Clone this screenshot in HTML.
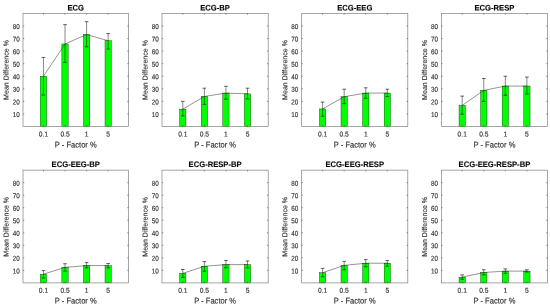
<!DOCTYPE html><html><head><meta charset="utf-8"><title>fig</title><style>html,body{margin:0;padding:0;background:#fff}svg{display:block}text{font-family:"Liberation Sans",sans-serif;stroke:#333;stroke-width:0.15px}</style></head><body>
<svg width="550" height="308" viewBox="0 0 550 308">
<rect width="550" height="308" fill="#fff"/>
<g><rect x="40.30" y="76.26" width="6.30" height="50.24" fill="#00ff00" stroke="#003000" stroke-width="0.4"/><rect x="61.87" y="43.97" width="6.30" height="82.53" fill="#00ff00" stroke="#003000" stroke-width="0.4"/><rect x="83.44" y="34.55" width="6.30" height="91.95" fill="#00ff00" stroke="#003000" stroke-width="0.4"/><rect x="105.01" y="40.71" width="6.30" height="85.79" fill="#00ff00" stroke="#003000" stroke-width="0.4"/><polyline points="43.45,76.26 65.02,43.97 86.59,34.55 108.16,40.71" fill="none" stroke="#2a2a2a" stroke-width="0.5"/><path d="M43.45 95.10V57.41" fill="none" stroke="#111" stroke-width="0.5"/><path d="M41.65 95.10h3.6M41.65 57.41h3.6" fill="none" stroke="#111" stroke-width="0.65"/><path d="M65.02 62.44V24.63" fill="none" stroke="#111" stroke-width="0.5"/><path d="M63.22 62.44h3.6M63.22 24.63h3.6" fill="none" stroke="#111" stroke-width="0.65"/><path d="M86.59 46.80V21.68" fill="none" stroke="#111" stroke-width="0.5"/><path d="M84.79 46.80h3.6M84.79 21.68h3.6" fill="none" stroke="#111" stroke-width="0.65"/><path d="M108.16 49.00V33.55" fill="none" stroke="#111" stroke-width="0.5"/><path d="M106.36 49.00h3.6M106.36 33.55h3.6" fill="none" stroke="#111" stroke-width="0.65"/><rect x="23.00" y="13.45" width="105.50" height="113.05" fill="none" stroke="#858585" stroke-width="0.72"/><path d="M43.45 126.50v-1.25M43.45 13.45v1.25M65.02 126.50v-1.25M65.02 13.45v1.25M86.59 126.50v-1.25M86.59 13.45v1.25M108.16 126.50v-1.25M108.16 13.45v1.25M23.00 113.94h1.25M128.50 113.94h-1.25M23.00 101.38h1.25M128.50 101.38h-1.25M23.00 88.82h1.25M128.50 88.82h-1.25M23.00 76.26h1.25M128.50 76.26h-1.25M23.00 63.69h1.25M128.50 63.69h-1.25M23.00 51.13h1.25M128.50 51.13h-1.25M23.00 38.57h1.25M128.50 38.57h-1.25M23.00 26.01h1.25M128.50 26.01h-1.25" fill="none" stroke="#383838" stroke-width="0.55"/><text transform="translate(43.45 136.50) rotate(0.05) scale(0.95 1)" font-size="7.05" text-anchor="middle" fill="#333">0.1</text><text transform="translate(65.02 136.50) rotate(0.05) scale(0.95 1)" font-size="7.05" text-anchor="middle" fill="#333">0.5</text><text transform="translate(86.59 136.50) rotate(0.05) scale(0.95 1)" font-size="7.05" text-anchor="middle" fill="#333">1</text><text transform="translate(108.16 136.50) rotate(0.05) scale(0.95 1)" font-size="7.05" text-anchor="middle" fill="#333">5</text><text transform="translate(19.70 116.97) rotate(0.05) scale(0.9 1)" font-size="7.05" text-anchor="end" fill="#333">10</text><text transform="translate(19.70 104.41) rotate(0.05) scale(0.9 1)" font-size="7.05" text-anchor="end" fill="#333">20</text><text transform="translate(19.70 91.85) rotate(0.05) scale(0.9 1)" font-size="7.05" text-anchor="end" fill="#333">30</text><text transform="translate(19.70 79.29) rotate(0.05) scale(0.9 1)" font-size="7.05" text-anchor="end" fill="#333">40</text><text transform="translate(19.70 66.72) rotate(0.05) scale(0.9 1)" font-size="7.05" text-anchor="end" fill="#333">50</text><text transform="translate(19.70 54.16) rotate(0.05) scale(0.9 1)" font-size="7.05" text-anchor="end" fill="#333">60</text><text transform="translate(19.70 41.60) rotate(0.05) scale(0.9 1)" font-size="7.05" text-anchor="end" fill="#333">70</text><text transform="translate(19.70 29.04) rotate(0.05) scale(0.9 1)" font-size="7.05" text-anchor="end" fill="#333">80</text><text transform="translate(75.75 147.40) rotate(0.05) scale(0.925 1)" font-size="8.2" text-anchor="middle" fill="#333">P - Factor %</text><text transform="translate(8.60 69.97) rotate(-89.95)" font-size="7.05" text-anchor="middle" fill="#333">Mean Difference %</text><text transform="translate(75.75 10.55) rotate(0.05) scale(0.955 1)" font-size="8.0" font-weight="bold" text-anchor="middle" fill="#000" stroke="#000">ECG</text></g>
<g><rect x="179.65" y="109.17" width="6.30" height="17.33" fill="#00ff00" stroke="#003000" stroke-width="0.4"/><rect x="201.22" y="96.48" width="6.30" height="30.02" fill="#00ff00" stroke="#003000" stroke-width="0.4"/><rect x="222.79" y="93.09" width="6.30" height="33.41" fill="#00ff00" stroke="#003000" stroke-width="0.4"/><rect x="244.36" y="93.84" width="6.30" height="32.66" fill="#00ff00" stroke="#003000" stroke-width="0.4"/><polyline points="182.80,109.17 204.37,96.48 225.94,93.09 247.51,93.84" fill="none" stroke="#2a2a2a" stroke-width="0.5"/><path d="M182.80 115.95V101.38" fill="none" stroke="#111" stroke-width="0.5"/><path d="M181.00 115.95h3.6M181.00 101.38h3.6" fill="none" stroke="#111" stroke-width="0.65"/><path d="M204.37 104.39V88.19" fill="none" stroke="#111" stroke-width="0.5"/><path d="M202.57 104.39h3.6M202.57 88.19h3.6" fill="none" stroke="#111" stroke-width="0.65"/><path d="M225.94 99.24V86.30" fill="none" stroke="#111" stroke-width="0.5"/><path d="M224.14 99.24h3.6M224.14 86.30h3.6" fill="none" stroke="#111" stroke-width="0.65"/><path d="M247.51 98.87V88.19" fill="none" stroke="#111" stroke-width="0.5"/><path d="M245.71 98.87h3.6M245.71 88.19h3.6" fill="none" stroke="#111" stroke-width="0.65"/><rect x="162.00" y="13.45" width="106.20" height="113.05" fill="none" stroke="#858585" stroke-width="0.72"/><path d="M182.80 126.50v-1.25M182.80 13.45v1.25M204.37 126.50v-1.25M204.37 13.45v1.25M225.94 126.50v-1.25M225.94 13.45v1.25M247.51 126.50v-1.25M247.51 13.45v1.25M162.00 113.94h1.25M268.20 113.94h-1.25M162.00 101.38h1.25M268.20 101.38h-1.25M162.00 88.82h1.25M268.20 88.82h-1.25M162.00 76.26h1.25M268.20 76.26h-1.25M162.00 63.69h1.25M268.20 63.69h-1.25M162.00 51.13h1.25M268.20 51.13h-1.25M162.00 38.57h1.25M268.20 38.57h-1.25M162.00 26.01h1.25M268.20 26.01h-1.25" fill="none" stroke="#383838" stroke-width="0.55"/><text transform="translate(182.80 136.50) rotate(0.05) scale(0.95 1)" font-size="7.05" text-anchor="middle" fill="#333">0.1</text><text transform="translate(204.37 136.50) rotate(0.05) scale(0.95 1)" font-size="7.05" text-anchor="middle" fill="#333">0.5</text><text transform="translate(225.94 136.50) rotate(0.05) scale(0.95 1)" font-size="7.05" text-anchor="middle" fill="#333">1</text><text transform="translate(247.51 136.50) rotate(0.05) scale(0.95 1)" font-size="7.05" text-anchor="middle" fill="#333">5</text><text transform="translate(158.70 116.97) rotate(0.05) scale(0.9 1)" font-size="7.05" text-anchor="end" fill="#333">10</text><text transform="translate(158.70 104.41) rotate(0.05) scale(0.9 1)" font-size="7.05" text-anchor="end" fill="#333">20</text><text transform="translate(158.70 91.85) rotate(0.05) scale(0.9 1)" font-size="7.05" text-anchor="end" fill="#333">30</text><text transform="translate(158.70 79.29) rotate(0.05) scale(0.9 1)" font-size="7.05" text-anchor="end" fill="#333">40</text><text transform="translate(158.70 66.72) rotate(0.05) scale(0.9 1)" font-size="7.05" text-anchor="end" fill="#333">50</text><text transform="translate(158.70 54.16) rotate(0.05) scale(0.9 1)" font-size="7.05" text-anchor="end" fill="#333">60</text><text transform="translate(158.70 41.60) rotate(0.05) scale(0.9 1)" font-size="7.05" text-anchor="end" fill="#333">70</text><text transform="translate(158.70 29.04) rotate(0.05) scale(0.9 1)" font-size="7.05" text-anchor="end" fill="#333">80</text><text transform="translate(215.10 147.40) rotate(0.05) scale(0.925 1)" font-size="8.2" text-anchor="middle" fill="#333">P - Factor %</text><text transform="translate(147.60 69.97) rotate(-89.95)" font-size="7.05" text-anchor="middle" fill="#333">Mean Difference %</text><text transform="translate(215.10 10.55) rotate(0.05) scale(0.955 1)" font-size="8.0" font-weight="bold" text-anchor="middle" fill="#000" stroke="#000">ECG-BP</text></g>
<g><rect x="319.45" y="108.91" width="6.30" height="17.59" fill="#00ff00" stroke="#003000" stroke-width="0.4"/><rect x="341.02" y="96.73" width="6.30" height="29.77" fill="#00ff00" stroke="#003000" stroke-width="0.4"/><rect x="362.59" y="93.09" width="6.30" height="33.41" fill="#00ff00" stroke="#003000" stroke-width="0.4"/><rect x="384.16" y="93.09" width="6.30" height="33.41" fill="#00ff00" stroke="#003000" stroke-width="0.4"/><polyline points="322.60,108.91 344.17,96.73 365.74,93.09 387.31,93.09" fill="none" stroke="#2a2a2a" stroke-width="0.5"/><path d="M322.60 116.20V102.13" fill="none" stroke="#111" stroke-width="0.5"/><path d="M320.80 116.20h3.6M320.80 102.13h3.6" fill="none" stroke="#111" stroke-width="0.65"/><path d="M344.17 103.64V89.19" fill="none" stroke="#111" stroke-width="0.5"/><path d="M342.37 103.64h3.6M342.37 89.19h3.6" fill="none" stroke="#111" stroke-width="0.65"/><path d="M365.74 98.24V87.81" fill="none" stroke="#111" stroke-width="0.5"/><path d="M363.94 98.24h3.6M363.94 87.81h3.6" fill="none" stroke="#111" stroke-width="0.65"/><path d="M387.31 96.60V89.19" fill="none" stroke="#111" stroke-width="0.5"/><path d="M385.51 96.60h3.6M385.51 89.19h3.6" fill="none" stroke="#111" stroke-width="0.65"/><rect x="301.65" y="13.45" width="106.15" height="113.05" fill="none" stroke="#858585" stroke-width="0.72"/><path d="M322.60 126.50v-1.25M322.60 13.45v1.25M344.17 126.50v-1.25M344.17 13.45v1.25M365.74 126.50v-1.25M365.74 13.45v1.25M387.31 126.50v-1.25M387.31 13.45v1.25M301.65 113.94h1.25M407.80 113.94h-1.25M301.65 101.38h1.25M407.80 101.38h-1.25M301.65 88.82h1.25M407.80 88.82h-1.25M301.65 76.26h1.25M407.80 76.26h-1.25M301.65 63.69h1.25M407.80 63.69h-1.25M301.65 51.13h1.25M407.80 51.13h-1.25M301.65 38.57h1.25M407.80 38.57h-1.25M301.65 26.01h1.25M407.80 26.01h-1.25" fill="none" stroke="#383838" stroke-width="0.55"/><text transform="translate(322.60 136.50) rotate(0.05) scale(0.95 1)" font-size="7.05" text-anchor="middle" fill="#333">0.1</text><text transform="translate(344.17 136.50) rotate(0.05) scale(0.95 1)" font-size="7.05" text-anchor="middle" fill="#333">0.5</text><text transform="translate(365.74 136.50) rotate(0.05) scale(0.95 1)" font-size="7.05" text-anchor="middle" fill="#333">1</text><text transform="translate(387.31 136.50) rotate(0.05) scale(0.95 1)" font-size="7.05" text-anchor="middle" fill="#333">5</text><text transform="translate(298.35 116.97) rotate(0.05) scale(0.9 1)" font-size="7.05" text-anchor="end" fill="#333">10</text><text transform="translate(298.35 104.41) rotate(0.05) scale(0.9 1)" font-size="7.05" text-anchor="end" fill="#333">20</text><text transform="translate(298.35 91.85) rotate(0.05) scale(0.9 1)" font-size="7.05" text-anchor="end" fill="#333">30</text><text transform="translate(298.35 79.29) rotate(0.05) scale(0.9 1)" font-size="7.05" text-anchor="end" fill="#333">40</text><text transform="translate(298.35 66.72) rotate(0.05) scale(0.9 1)" font-size="7.05" text-anchor="end" fill="#333">50</text><text transform="translate(298.35 54.16) rotate(0.05) scale(0.9 1)" font-size="7.05" text-anchor="end" fill="#333">60</text><text transform="translate(298.35 41.60) rotate(0.05) scale(0.9 1)" font-size="7.05" text-anchor="end" fill="#333">70</text><text transform="translate(298.35 29.04) rotate(0.05) scale(0.9 1)" font-size="7.05" text-anchor="end" fill="#333">80</text><text transform="translate(354.73 147.40) rotate(0.05) scale(0.925 1)" font-size="8.2" text-anchor="middle" fill="#333">P - Factor %</text><text transform="translate(287.25 69.97) rotate(-89.95)" font-size="7.05" text-anchor="middle" fill="#333">Mean Difference %</text><text transform="translate(354.73 10.55) rotate(0.05) scale(0.955 1)" font-size="8.0" font-weight="bold" text-anchor="middle" fill="#000" stroke="#000">ECG-EEG</text></g>
<g><rect x="459.05" y="105.40" width="6.30" height="21.10" fill="#00ff00" stroke="#003000" stroke-width="0.4"/><rect x="480.62" y="90.39" width="6.30" height="36.11" fill="#00ff00" stroke="#003000" stroke-width="0.4"/><rect x="502.19" y="86.05" width="6.30" height="40.45" fill="#00ff00" stroke="#003000" stroke-width="0.4"/><rect x="523.76" y="86.05" width="6.30" height="40.45" fill="#00ff00" stroke="#003000" stroke-width="0.4"/><polyline points="462.20,105.40 483.77,90.39 505.34,86.05 526.91,86.05" fill="none" stroke="#2a2a2a" stroke-width="0.5"/><path d="M462.20 114.19V96.10" fill="none" stroke="#111" stroke-width="0.5"/><path d="M460.40 114.19h3.6M460.40 96.10h3.6" fill="none" stroke="#111" stroke-width="0.65"/><path d="M483.77 101.38V78.52" fill="none" stroke="#111" stroke-width="0.5"/><path d="M481.97 101.38h3.6M481.97 78.52h3.6" fill="none" stroke="#111" stroke-width="0.65"/><path d="M505.34 95.22V76.26" fill="none" stroke="#111" stroke-width="0.5"/><path d="M503.54 95.22h3.6M503.54 76.26h3.6" fill="none" stroke="#111" stroke-width="0.65"/><path d="M526.91 94.09V77.13" fill="none" stroke="#111" stroke-width="0.5"/><path d="M525.11 94.09h3.6M525.11 77.13h3.6" fill="none" stroke="#111" stroke-width="0.65"/><rect x="441.40" y="13.45" width="106.05" height="113.05" fill="none" stroke="#858585" stroke-width="0.72"/><path d="M462.20 126.50v-1.25M462.20 13.45v1.25M483.77 126.50v-1.25M483.77 13.45v1.25M505.34 126.50v-1.25M505.34 13.45v1.25M526.91 126.50v-1.25M526.91 13.45v1.25M441.40 113.94h1.25M547.45 113.94h-1.25M441.40 101.38h1.25M547.45 101.38h-1.25M441.40 88.82h1.25M547.45 88.82h-1.25M441.40 76.26h1.25M547.45 76.26h-1.25M441.40 63.69h1.25M547.45 63.69h-1.25M441.40 51.13h1.25M547.45 51.13h-1.25M441.40 38.57h1.25M547.45 38.57h-1.25M441.40 26.01h1.25M547.45 26.01h-1.25" fill="none" stroke="#383838" stroke-width="0.55"/><text transform="translate(462.20 136.50) rotate(0.05) scale(0.95 1)" font-size="7.05" text-anchor="middle" fill="#333">0.1</text><text transform="translate(483.77 136.50) rotate(0.05) scale(0.95 1)" font-size="7.05" text-anchor="middle" fill="#333">0.5</text><text transform="translate(505.34 136.50) rotate(0.05) scale(0.95 1)" font-size="7.05" text-anchor="middle" fill="#333">1</text><text transform="translate(526.91 136.50) rotate(0.05) scale(0.95 1)" font-size="7.05" text-anchor="middle" fill="#333">5</text><text transform="translate(438.10 116.97) rotate(0.05) scale(0.9 1)" font-size="7.05" text-anchor="end" fill="#333">10</text><text transform="translate(438.10 104.41) rotate(0.05) scale(0.9 1)" font-size="7.05" text-anchor="end" fill="#333">20</text><text transform="translate(438.10 91.85) rotate(0.05) scale(0.9 1)" font-size="7.05" text-anchor="end" fill="#333">30</text><text transform="translate(438.10 79.29) rotate(0.05) scale(0.9 1)" font-size="7.05" text-anchor="end" fill="#333">40</text><text transform="translate(438.10 66.72) rotate(0.05) scale(0.9 1)" font-size="7.05" text-anchor="end" fill="#333">50</text><text transform="translate(438.10 54.16) rotate(0.05) scale(0.9 1)" font-size="7.05" text-anchor="end" fill="#333">60</text><text transform="translate(438.10 41.60) rotate(0.05) scale(0.9 1)" font-size="7.05" text-anchor="end" fill="#333">70</text><text transform="translate(438.10 29.04) rotate(0.05) scale(0.9 1)" font-size="7.05" text-anchor="end" fill="#333">80</text><text transform="translate(494.43 147.40) rotate(0.05) scale(0.925 1)" font-size="8.2" text-anchor="middle" fill="#333">P - Factor %</text><text transform="translate(427.00 69.97) rotate(-89.95)" font-size="7.05" text-anchor="middle" fill="#333">Mean Difference %</text><text transform="translate(494.43 10.55) rotate(0.05) scale(0.955 1)" font-size="8.0" font-weight="bold" text-anchor="middle" fill="#000" stroke="#000">ECG-RESP</text></g>
<g><rect x="40.30" y="274.13" width="6.30" height="8.77" fill="#00ff00" stroke="#003000" stroke-width="0.4"/><rect x="61.87" y="267.37" width="6.30" height="15.53" fill="#00ff00" stroke="#003000" stroke-width="0.4"/><rect x="83.44" y="265.61" width="6.30" height="17.29" fill="#00ff00" stroke="#003000" stroke-width="0.4"/><rect x="105.01" y="265.61" width="6.30" height="17.29" fill="#00ff00" stroke="#003000" stroke-width="0.4"/><polyline points="43.45,274.13 65.02,267.37 86.59,265.61 108.16,265.61" fill="none" stroke="#2a2a2a" stroke-width="0.5"/><path d="M43.45 278.01V270.62" fill="none" stroke="#111" stroke-width="0.5"/><path d="M41.65 278.01h3.6M41.65 270.62h3.6" fill="none" stroke="#111" stroke-width="0.65"/><path d="M65.02 271.12V263.73" fill="none" stroke="#111" stroke-width="0.5"/><path d="M63.22 271.12h3.6M63.22 263.73h3.6" fill="none" stroke="#111" stroke-width="0.65"/><path d="M86.59 267.87V262.60" fill="none" stroke="#111" stroke-width="0.5"/><path d="M84.79 267.87h3.6M84.79 262.60h3.6" fill="none" stroke="#111" stroke-width="0.65"/><path d="M108.16 267.87V263.48" fill="none" stroke="#111" stroke-width="0.5"/><path d="M106.36 267.87h3.6M106.36 263.48h3.6" fill="none" stroke="#111" stroke-width="0.65"/><rect x="23.00" y="170.15" width="105.50" height="112.75" fill="none" stroke="#858585" stroke-width="0.72"/><path d="M43.45 282.90v-1.25M43.45 170.15v1.25M65.02 282.90v-1.25M65.02 170.15v1.25M86.59 282.90v-1.25M86.59 170.15v1.25M108.16 282.90v-1.25M108.16 170.15v1.25M23.00 270.37h1.25M128.50 270.37h-1.25M23.00 257.84h1.25M128.50 257.84h-1.25M23.00 245.32h1.25M128.50 245.32h-1.25M23.00 232.79h1.25M128.50 232.79h-1.25M23.00 220.26h1.25M128.50 220.26h-1.25M23.00 207.73h1.25M128.50 207.73h-1.25M23.00 195.21h1.25M128.50 195.21h-1.25M23.00 182.68h1.25M128.50 182.68h-1.25" fill="none" stroke="#383838" stroke-width="0.55"/><text transform="translate(43.45 292.70) rotate(0.05) scale(0.95 1)" font-size="7.05" text-anchor="middle" fill="#333">0.1</text><text transform="translate(65.02 292.70) rotate(0.05) scale(0.95 1)" font-size="7.05" text-anchor="middle" fill="#333">0.5</text><text transform="translate(86.59 292.70) rotate(0.05) scale(0.95 1)" font-size="7.05" text-anchor="middle" fill="#333">1</text><text transform="translate(108.16 292.70) rotate(0.05) scale(0.95 1)" font-size="7.05" text-anchor="middle" fill="#333">5</text><text transform="translate(19.70 273.40) rotate(0.05) scale(0.9 1)" font-size="7.05" text-anchor="end" fill="#333">10</text><text transform="translate(19.70 260.87) rotate(0.05) scale(0.9 1)" font-size="7.05" text-anchor="end" fill="#333">20</text><text transform="translate(19.70 248.35) rotate(0.05) scale(0.9 1)" font-size="7.05" text-anchor="end" fill="#333">30</text><text transform="translate(19.70 235.82) rotate(0.05) scale(0.9 1)" font-size="7.05" text-anchor="end" fill="#333">40</text><text transform="translate(19.70 223.29) rotate(0.05) scale(0.9 1)" font-size="7.05" text-anchor="end" fill="#333">50</text><text transform="translate(19.70 210.76) rotate(0.05) scale(0.9 1)" font-size="7.05" text-anchor="end" fill="#333">60</text><text transform="translate(19.70 198.24) rotate(0.05) scale(0.9 1)" font-size="7.05" text-anchor="end" fill="#333">70</text><text transform="translate(19.70 185.71) rotate(0.05) scale(0.9 1)" font-size="7.05" text-anchor="end" fill="#333">80</text><text transform="translate(75.75 303.60) rotate(0.05) scale(0.925 1)" font-size="8.2" text-anchor="middle" fill="#333">P - Factor %</text><text transform="translate(8.60 226.82) rotate(-89.95)" font-size="7.05" text-anchor="middle" fill="#333">Mean Difference %</text><text transform="translate(75.75 166.95) rotate(0.05) scale(0.955 1)" font-size="8.0" font-weight="bold" text-anchor="middle" fill="#000" stroke="#000">ECG-EEG-BP</text></g>
<g><rect x="179.65" y="273.38" width="6.30" height="9.52" fill="#00ff00" stroke="#003000" stroke-width="0.4"/><rect x="201.22" y="266.24" width="6.30" height="16.66" fill="#00ff00" stroke="#003000" stroke-width="0.4"/><rect x="222.79" y="264.61" width="6.30" height="18.29" fill="#00ff00" stroke="#003000" stroke-width="0.4"/><rect x="244.36" y="264.61" width="6.30" height="18.29" fill="#00ff00" stroke="#003000" stroke-width="0.4"/><polyline points="182.80,273.38 204.37,266.24 225.94,264.61 247.51,264.61" fill="none" stroke="#2a2a2a" stroke-width="0.5"/><path d="M182.80 277.39V269.50" fill="none" stroke="#111" stroke-width="0.5"/><path d="M181.00 277.39h3.6M181.00 269.50h3.6" fill="none" stroke="#111" stroke-width="0.65"/><path d="M204.37 271.25V261.60" fill="none" stroke="#111" stroke-width="0.5"/><path d="M202.57 271.25h3.6M202.57 261.60h3.6" fill="none" stroke="#111" stroke-width="0.65"/><path d="M225.94 267.74V260.48" fill="none" stroke="#111" stroke-width="0.5"/><path d="M224.14 267.74h3.6M224.14 260.48h3.6" fill="none" stroke="#111" stroke-width="0.65"/><path d="M247.51 267.87V260.98" fill="none" stroke="#111" stroke-width="0.5"/><path d="M245.71 267.87h3.6M245.71 260.98h3.6" fill="none" stroke="#111" stroke-width="0.65"/><rect x="162.00" y="170.15" width="106.20" height="112.75" fill="none" stroke="#858585" stroke-width="0.72"/><path d="M182.80 282.90v-1.25M182.80 170.15v1.25M204.37 282.90v-1.25M204.37 170.15v1.25M225.94 282.90v-1.25M225.94 170.15v1.25M247.51 282.90v-1.25M247.51 170.15v1.25M162.00 270.37h1.25M268.20 270.37h-1.25M162.00 257.84h1.25M268.20 257.84h-1.25M162.00 245.32h1.25M268.20 245.32h-1.25M162.00 232.79h1.25M268.20 232.79h-1.25M162.00 220.26h1.25M268.20 220.26h-1.25M162.00 207.73h1.25M268.20 207.73h-1.25M162.00 195.21h1.25M268.20 195.21h-1.25M162.00 182.68h1.25M268.20 182.68h-1.25" fill="none" stroke="#383838" stroke-width="0.55"/><text transform="translate(182.80 292.70) rotate(0.05) scale(0.95 1)" font-size="7.05" text-anchor="middle" fill="#333">0.1</text><text transform="translate(204.37 292.70) rotate(0.05) scale(0.95 1)" font-size="7.05" text-anchor="middle" fill="#333">0.5</text><text transform="translate(225.94 292.70) rotate(0.05) scale(0.95 1)" font-size="7.05" text-anchor="middle" fill="#333">1</text><text transform="translate(247.51 292.70) rotate(0.05) scale(0.95 1)" font-size="7.05" text-anchor="middle" fill="#333">5</text><text transform="translate(158.70 273.40) rotate(0.05) scale(0.9 1)" font-size="7.05" text-anchor="end" fill="#333">10</text><text transform="translate(158.70 260.87) rotate(0.05) scale(0.9 1)" font-size="7.05" text-anchor="end" fill="#333">20</text><text transform="translate(158.70 248.35) rotate(0.05) scale(0.9 1)" font-size="7.05" text-anchor="end" fill="#333">30</text><text transform="translate(158.70 235.82) rotate(0.05) scale(0.9 1)" font-size="7.05" text-anchor="end" fill="#333">40</text><text transform="translate(158.70 223.29) rotate(0.05) scale(0.9 1)" font-size="7.05" text-anchor="end" fill="#333">50</text><text transform="translate(158.70 210.76) rotate(0.05) scale(0.9 1)" font-size="7.05" text-anchor="end" fill="#333">60</text><text transform="translate(158.70 198.24) rotate(0.05) scale(0.9 1)" font-size="7.05" text-anchor="end" fill="#333">70</text><text transform="translate(158.70 185.71) rotate(0.05) scale(0.9 1)" font-size="7.05" text-anchor="end" fill="#333">80</text><text transform="translate(215.10 303.60) rotate(0.05) scale(0.925 1)" font-size="8.2" text-anchor="middle" fill="#333">P - Factor %</text><text transform="translate(147.60 226.82) rotate(-89.95)" font-size="7.05" text-anchor="middle" fill="#333">Mean Difference %</text><text transform="translate(215.10 166.95) rotate(0.05) scale(0.955 1)" font-size="8.0" font-weight="bold" text-anchor="middle" fill="#000" stroke="#000">ECG-RESP-BP</text></g>
<g><rect x="319.45" y="272.75" width="6.30" height="10.15" fill="#00ff00" stroke="#003000" stroke-width="0.4"/><rect x="341.02" y="265.36" width="6.30" height="17.54" fill="#00ff00" stroke="#003000" stroke-width="0.4"/><rect x="362.59" y="263.23" width="6.30" height="19.67" fill="#00ff00" stroke="#003000" stroke-width="0.4"/><rect x="384.16" y="263.23" width="6.30" height="19.67" fill="#00ff00" stroke="#003000" stroke-width="0.4"/><polyline points="322.60,272.75 344.17,265.36 365.74,263.23 387.31,263.23" fill="none" stroke="#2a2a2a" stroke-width="0.5"/><path d="M322.60 276.89V268.37" fill="none" stroke="#111" stroke-width="0.5"/><path d="M320.80 276.89h3.6M320.80 268.37h3.6" fill="none" stroke="#111" stroke-width="0.65"/><path d="M344.17 269.75V261.35" fill="none" stroke="#111" stroke-width="0.5"/><path d="M342.37 269.75h3.6M342.37 261.35h3.6" fill="none" stroke="#111" stroke-width="0.65"/><path d="M365.74 266.74V259.60" fill="none" stroke="#111" stroke-width="0.5"/><path d="M363.94 266.74h3.6M363.94 259.60h3.6" fill="none" stroke="#111" stroke-width="0.65"/><path d="M387.31 266.24V260.48" fill="none" stroke="#111" stroke-width="0.5"/><path d="M385.51 266.24h3.6M385.51 260.48h3.6" fill="none" stroke="#111" stroke-width="0.65"/><rect x="301.65" y="170.15" width="106.15" height="112.75" fill="none" stroke="#858585" stroke-width="0.72"/><path d="M322.60 282.90v-1.25M322.60 170.15v1.25M344.17 282.90v-1.25M344.17 170.15v1.25M365.74 282.90v-1.25M365.74 170.15v1.25M387.31 282.90v-1.25M387.31 170.15v1.25M301.65 270.37h1.25M407.80 270.37h-1.25M301.65 257.84h1.25M407.80 257.84h-1.25M301.65 245.32h1.25M407.80 245.32h-1.25M301.65 232.79h1.25M407.80 232.79h-1.25M301.65 220.26h1.25M407.80 220.26h-1.25M301.65 207.73h1.25M407.80 207.73h-1.25M301.65 195.21h1.25M407.80 195.21h-1.25M301.65 182.68h1.25M407.80 182.68h-1.25" fill="none" stroke="#383838" stroke-width="0.55"/><text transform="translate(322.60 292.70) rotate(0.05) scale(0.95 1)" font-size="7.05" text-anchor="middle" fill="#333">0.1</text><text transform="translate(344.17 292.70) rotate(0.05) scale(0.95 1)" font-size="7.05" text-anchor="middle" fill="#333">0.5</text><text transform="translate(365.74 292.70) rotate(0.05) scale(0.95 1)" font-size="7.05" text-anchor="middle" fill="#333">1</text><text transform="translate(387.31 292.70) rotate(0.05) scale(0.95 1)" font-size="7.05" text-anchor="middle" fill="#333">5</text><text transform="translate(298.35 273.40) rotate(0.05) scale(0.9 1)" font-size="7.05" text-anchor="end" fill="#333">10</text><text transform="translate(298.35 260.87) rotate(0.05) scale(0.9 1)" font-size="7.05" text-anchor="end" fill="#333">20</text><text transform="translate(298.35 248.35) rotate(0.05) scale(0.9 1)" font-size="7.05" text-anchor="end" fill="#333">30</text><text transform="translate(298.35 235.82) rotate(0.05) scale(0.9 1)" font-size="7.05" text-anchor="end" fill="#333">40</text><text transform="translate(298.35 223.29) rotate(0.05) scale(0.9 1)" font-size="7.05" text-anchor="end" fill="#333">50</text><text transform="translate(298.35 210.76) rotate(0.05) scale(0.9 1)" font-size="7.05" text-anchor="end" fill="#333">60</text><text transform="translate(298.35 198.24) rotate(0.05) scale(0.9 1)" font-size="7.05" text-anchor="end" fill="#333">70</text><text transform="translate(298.35 185.71) rotate(0.05) scale(0.9 1)" font-size="7.05" text-anchor="end" fill="#333">80</text><text transform="translate(354.73 303.60) rotate(0.05) scale(0.925 1)" font-size="8.2" text-anchor="middle" fill="#333">P - Factor %</text><text transform="translate(287.25 226.82) rotate(-89.95)" font-size="7.05" text-anchor="middle" fill="#333">Mean Difference %</text><text transform="translate(354.73 166.95) rotate(0.05) scale(0.955 1)" font-size="8.0" font-weight="bold" text-anchor="middle" fill="#000" stroke="#000">ECG-EEG-RESP</text></g>
<g><rect x="459.05" y="277.14" width="6.30" height="5.76" fill="#00ff00" stroke="#003000" stroke-width="0.4"/><rect x="480.62" y="272.50" width="6.30" height="10.40" fill="#00ff00" stroke="#003000" stroke-width="0.4"/><rect x="502.19" y="271.12" width="6.30" height="11.78" fill="#00ff00" stroke="#003000" stroke-width="0.4"/><rect x="523.76" y="271.12" width="6.30" height="11.78" fill="#00ff00" stroke="#003000" stroke-width="0.4"/><polyline points="462.20,277.14 483.77,272.50 505.34,271.12 526.91,271.12" fill="none" stroke="#2a2a2a" stroke-width="0.5"/><path d="M462.20 279.27V274.88" fill="none" stroke="#111" stroke-width="0.5"/><path d="M460.40 279.27h3.6M460.40 274.88h3.6" fill="none" stroke="#111" stroke-width="0.65"/><path d="M483.77 274.88V269.75" fill="none" stroke="#111" stroke-width="0.5"/><path d="M481.97 274.88h3.6M481.97 269.75h3.6" fill="none" stroke="#111" stroke-width="0.65"/><path d="M505.34 273.38V268.87" fill="none" stroke="#111" stroke-width="0.5"/><path d="M503.54 273.38h3.6M503.54 268.87h3.6" fill="none" stroke="#111" stroke-width="0.65"/><path d="M526.91 272.13V269.75" fill="none" stroke="#111" stroke-width="0.5"/><path d="M525.11 272.13h3.6M525.11 269.75h3.6" fill="none" stroke="#111" stroke-width="0.65"/><rect x="441.40" y="170.15" width="106.05" height="112.75" fill="none" stroke="#858585" stroke-width="0.72"/><path d="M462.20 282.90v-1.25M462.20 170.15v1.25M483.77 282.90v-1.25M483.77 170.15v1.25M505.34 282.90v-1.25M505.34 170.15v1.25M526.91 282.90v-1.25M526.91 170.15v1.25M441.40 270.37h1.25M547.45 270.37h-1.25M441.40 257.84h1.25M547.45 257.84h-1.25M441.40 245.32h1.25M547.45 245.32h-1.25M441.40 232.79h1.25M547.45 232.79h-1.25M441.40 220.26h1.25M547.45 220.26h-1.25M441.40 207.73h1.25M547.45 207.73h-1.25M441.40 195.21h1.25M547.45 195.21h-1.25M441.40 182.68h1.25M547.45 182.68h-1.25" fill="none" stroke="#383838" stroke-width="0.55"/><text transform="translate(462.20 292.70) rotate(0.05) scale(0.95 1)" font-size="7.05" text-anchor="middle" fill="#333">0.1</text><text transform="translate(483.77 292.70) rotate(0.05) scale(0.95 1)" font-size="7.05" text-anchor="middle" fill="#333">0.5</text><text transform="translate(505.34 292.70) rotate(0.05) scale(0.95 1)" font-size="7.05" text-anchor="middle" fill="#333">1</text><text transform="translate(526.91 292.70) rotate(0.05) scale(0.95 1)" font-size="7.05" text-anchor="middle" fill="#333">5</text><text transform="translate(438.10 273.40) rotate(0.05) scale(0.9 1)" font-size="7.05" text-anchor="end" fill="#333">10</text><text transform="translate(438.10 260.87) rotate(0.05) scale(0.9 1)" font-size="7.05" text-anchor="end" fill="#333">20</text><text transform="translate(438.10 248.35) rotate(0.05) scale(0.9 1)" font-size="7.05" text-anchor="end" fill="#333">30</text><text transform="translate(438.10 235.82) rotate(0.05) scale(0.9 1)" font-size="7.05" text-anchor="end" fill="#333">40</text><text transform="translate(438.10 223.29) rotate(0.05) scale(0.9 1)" font-size="7.05" text-anchor="end" fill="#333">50</text><text transform="translate(438.10 210.76) rotate(0.05) scale(0.9 1)" font-size="7.05" text-anchor="end" fill="#333">60</text><text transform="translate(438.10 198.24) rotate(0.05) scale(0.9 1)" font-size="7.05" text-anchor="end" fill="#333">70</text><text transform="translate(438.10 185.71) rotate(0.05) scale(0.9 1)" font-size="7.05" text-anchor="end" fill="#333">80</text><text transform="translate(494.43 303.60) rotate(0.05) scale(0.925 1)" font-size="8.2" text-anchor="middle" fill="#333">P - Factor %</text><text transform="translate(427.00 226.82) rotate(-89.95)" font-size="7.05" text-anchor="middle" fill="#333">Mean Difference %</text><text transform="translate(494.43 166.95) rotate(0.05) scale(0.955 1)" font-size="8.0" font-weight="bold" text-anchor="middle" fill="#000" stroke="#000">ECG-EEG-RESP-BP</text></g>
</svg></body></html>
